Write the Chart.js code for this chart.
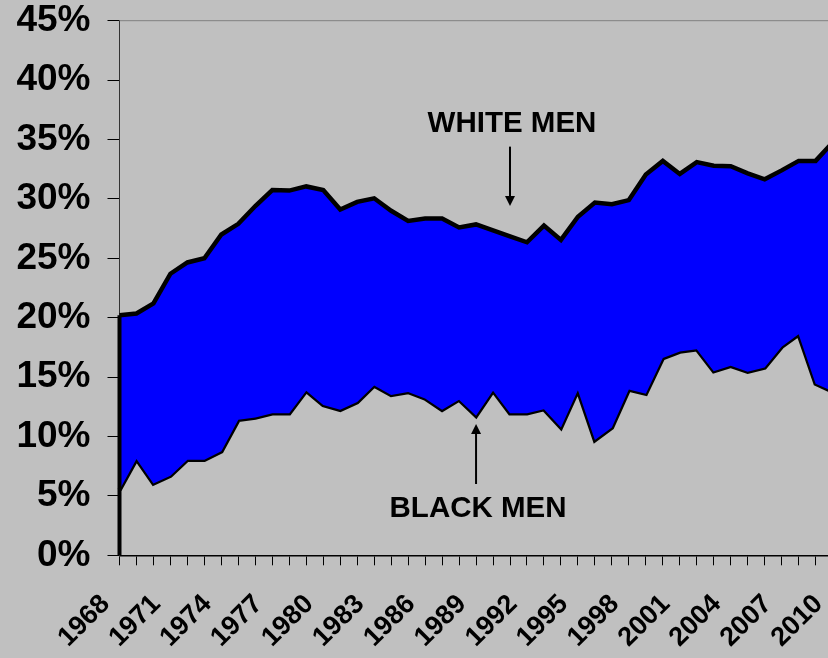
<!DOCTYPE html>
<html>
<head>
<meta charset="utf-8">
<script src="https://cdn.jsdelivr.net/npm/chart.js@4.4.1/dist/chart.umd.min.js"></script>
<style>
  html, body { margin: 0; padding: 0; background: #c0c0c0; overflow: hidden; }
  #wrap { position: absolute; left: 0; top: 0; width: 848px; height: 658px; }
</style>
</head>
<body>
<div id="wrap"><canvas id="chart" width="848" height="658"></canvas></div>
<script>
// Share of men (%)
const years = ['1968', '1969', '1970', '1971', '1972', '1973', '1974', '1975', '1976', '1977',
  '1978', '1979', '1980', '1981', '1982', '1983', '1984', '1985', '1986', '1987',
  '1988', '1989', '1990', '1991', '1992', '1993', '1994', '1995', '1996', '1997',
  '1998', '1999', '2000', '2001', '2002', '2003', '2004', '2005', '2006', '2007',
  '2008', '2009', '2010'];

const whiteMen = [20.2, 20.35, 21.2, 23.7, 24.65, 25.0, 27.0, 27.9, 29.4, 30.75,
  30.7, 31.05, 30.75, 29.1, 29.75, 30.05, 29.0, 28.15, 28.35, 28.35,
  27.6, 27.85, 27.35, 26.85, 26.35, 27.75, 26.55, 28.5, 29.7, 29.55,
  29.9, 32.05, 33.2, 32.1, 33.1, 32.8, 32.75, 32.15, 31.65, 32.4,
  33.2, 33.2, 34.75];

const blackMen = [5.5, 8.1, 6.05, 6.7, 8.05, 8.05, 8.75, 11.4, 11.6, 11.95,
  11.95, 13.85, 12.65, 12.25, 12.9, 14.3, 13.5, 13.75, 13.2, 12.25,
  13.1, 11.75, 13.85, 11.95, 11.95, 12.3, 10.75, 13.9, 9.7, 10.75,
  13.95, 13.6, 16.6, 17.15, 17.35, 15.5, 15.95, 15.45, 15.8, 17.55,
  18.6, 14.45, 13.8];

// annotation anchors, in data terms
const whiteNote = { text: 'WHITE MEN', year: '1991', textAt: 36.3, arrowFrom: 34.4, arrowTo: 29.4 };
const blackNote = { text: 'BLACK MEN', year: '1989', textAt: 3.9, arrowFrom: 6.0, arrowTo: 11.05 };

const FONT = '"Liberation Sans", Arial, sans-serif';

function arrow(ctx, x, y1, y2) {
  const dir = y2 > y1 ? 1 : -1;
  ctx.beginPath();
  ctx.moveTo(x, y1);
  ctx.lineTo(x, y2 - dir * 8);
  ctx.lineWidth = 2;
  ctx.strokeStyle = '#000';
  ctx.stroke();
  ctx.beginPath();
  ctx.moveTo(x, y2);
  ctx.lineTo(x - 5, y2 - dir * 10);
  ctx.lineTo(x + 5, y2 - dir * 10);
  ctx.closePath();
  ctx.fillStyle = '#000';
  ctx.fill();
}

const decorations = {
  id: 'decorations',
  afterDatasetsDraw(chart) {
    const { ctx, chartArea, scales } = chart;
    const x = scales.x, y = scales.y;
    ctx.save();

    // plot area top border
    ctx.beginPath();
    ctx.moveTo(chartArea.left, y.getPixelForValue(45));
    ctx.lineTo(chartArea.right, y.getPixelForValue(45));
    ctx.strokeStyle = '#808080';
    ctx.lineWidth = 1;
    ctx.stroke();

    // left edge of the areas
    const x0 = x.getPixelForValue(0);
    ctx.beginPath();
    ctx.moveTo(x0, y.getPixelForValue(whiteMen[0]));
    ctx.lineTo(x0, y.getPixelForValue(0));
    ctx.strokeStyle = '#000';
    ctx.lineWidth = 4;
    ctx.stroke();

    // labels + arrows
    ctx.font = 'bold 29.5px ' + FONT;
    ctx.fillStyle = '#000';
    ctx.textAlign = 'center';
    ctx.textBaseline = 'middle';
    [whiteNote, blackNote].forEach(n => {
      const xi = x.getPixelForValue(years.indexOf(n.year));
      ctx.fillText(n.text, xi + 2, y.getPixelForValue(n.textAt));
      arrow(ctx, xi, y.getPixelForValue(n.arrowFrom), y.getPixelForValue(n.arrowTo));
    });
    ctx.restore();
  }
};

new Chart(document.getElementById('chart'), {
  type: 'line',
  data: {
    labels: years,
    datasets: [
      {
        label: 'White men',
        data: whiteMen,
        borderColor: '#000',
        borderWidth: 4.5,
        backgroundColor: '#0000ff',
        fill: '+1',
        pointRadius: 0,
        tension: 0
      },
      {
        label: 'Black men',
        data: blackMen,
        borderColor: '#000',
        borderWidth: 4.5,
        fill: false,
        pointRadius: 0,
        tension: 0
      }
    ]
  },
  options: {
    responsive: false,
    animation: false,
    layout: { padding: { top: 20.7, right: 15.4, left: 0, bottom: 0 } },
    plugins: {
      legend: { display: false },
      tooltip: { enabled: false }
    },
    scales: {
      x: {
        offset: false,
        grid: { drawOnChartArea: false, tickLength: 10, color: '#000', lineWidth: 1 },
        border: { color: '#000', width: 1.5 },
        ticks: {
          autoSkip: false,
          minRotation: 45,
          maxRotation: 45,
          padding: 23,
          labelOffset: -14,
          color: '#000',
          font: { family: FONT, weight: 'bold', size: 27 },
          callback: function (v, i) { return i % 3 === 0 ? this.getLabelForValue(v) : ''; }
        },
        afterFit: s => {
          s.height = 102.7;
          s.paddingLeft = 0;
          s.paddingRight = 0;
        }
      },
      y: {
        min: 0,
        max: 45,
        grid: { drawOnChartArea: false, tickLength: 12, color: '#000', lineWidth: 1 },
        border: { color: '#333', width: 1 },
        ticks: {
          stepSize: 5,
          padding: 17,
          color: '#000',
          font: { family: FONT, weight: 'bold', size: 37 },
          callback: v => v + '%'
        },
        afterFit: s => {
          s.width = 119.5;
          s.paddingTop = 0;
          s.paddingBottom = 0;
        }
      }
    }
  },
  plugins: [decorations]
});
</script>
</body>
</html>
